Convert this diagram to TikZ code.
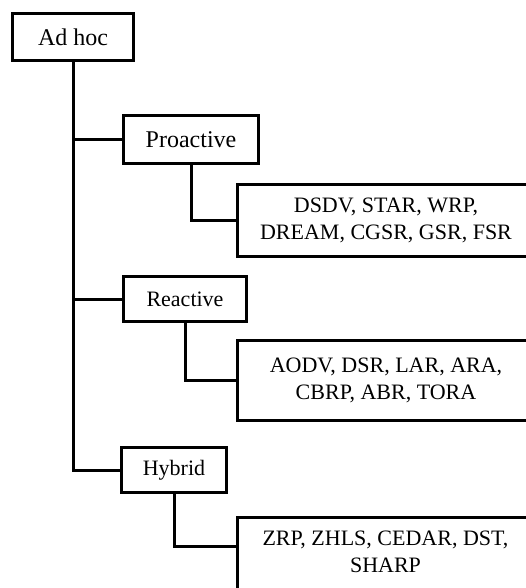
\documentclass[tikz,border=0pt]{standalone}
\usepackage{fontspec}
\setmainfont{Liberation Serif}
\usetikzlibrary{positioning}

\begin{document}
\begin{tikzpicture}[
  x=1pt, y=-1pt,
  block/.style={rectangle, draw=black, line width=3pt, fill=white, align=center, inner sep=0pt},
  headbox/.style={block, font=\fontsize{24}{29}\selectfont},
  subbox/.style={block, font=\fontsize{22}{27}\selectfont},
  listbox/.style={block, font=\fontsize{22}{27}\selectfont, minimum width=297pt},
  line/.style={line width=3pt}
]
\useasboundingbox (0,0) rectangle (526,588);

\node[headbox, minimum width=121pt, minimum height=47pt] (adhoc) at (73,37) {Ad hoc};
\node[headbox, minimum width=135pt, minimum height=48pt] (pro) at (191,139.5) {Proactive};
\node[listbox, minimum height=72pt] (prolist) at (386,220.5) {DSDV, STAR, WRP,\\DREAM, CGSR, GSR, FSR};
\node[subbox, minimum width=123pt, minimum height=45pt] (re) at (185,299) {Reactive};
\node[listbox, minimum height=80pt] (relist) at (386,380.5) {AODV, DSR, LAR, ARA,\\CBRP, ABR, TORA};
\node[subbox, minimum width=105pt, minimum height=45pt] (hy) at (174,470) {Hybrid};
% list box runs past the lower edge
\node[listbox, anchor=north, text height=55.5pt, text depth=44.5pt] (hylist) at (385.5,515.5) {ZRP, ZHLS, CEDAR, DST,\\SHARP};

\draw[line] (adhoc.south) |- (hy.west);
\draw[line] (adhoc.south |- pro.west) -- (pro.west);
\draw[line] (adhoc.south |- re.west) -- (re.west);
\draw[line] (pro.south) |- (prolist.west);
\draw[line] (re.south) |- (relist.west);
\draw[line] (hy.south) |- ([yshift=-30.5pt]hylist.north west);
\end{tikzpicture}
\end{document}
